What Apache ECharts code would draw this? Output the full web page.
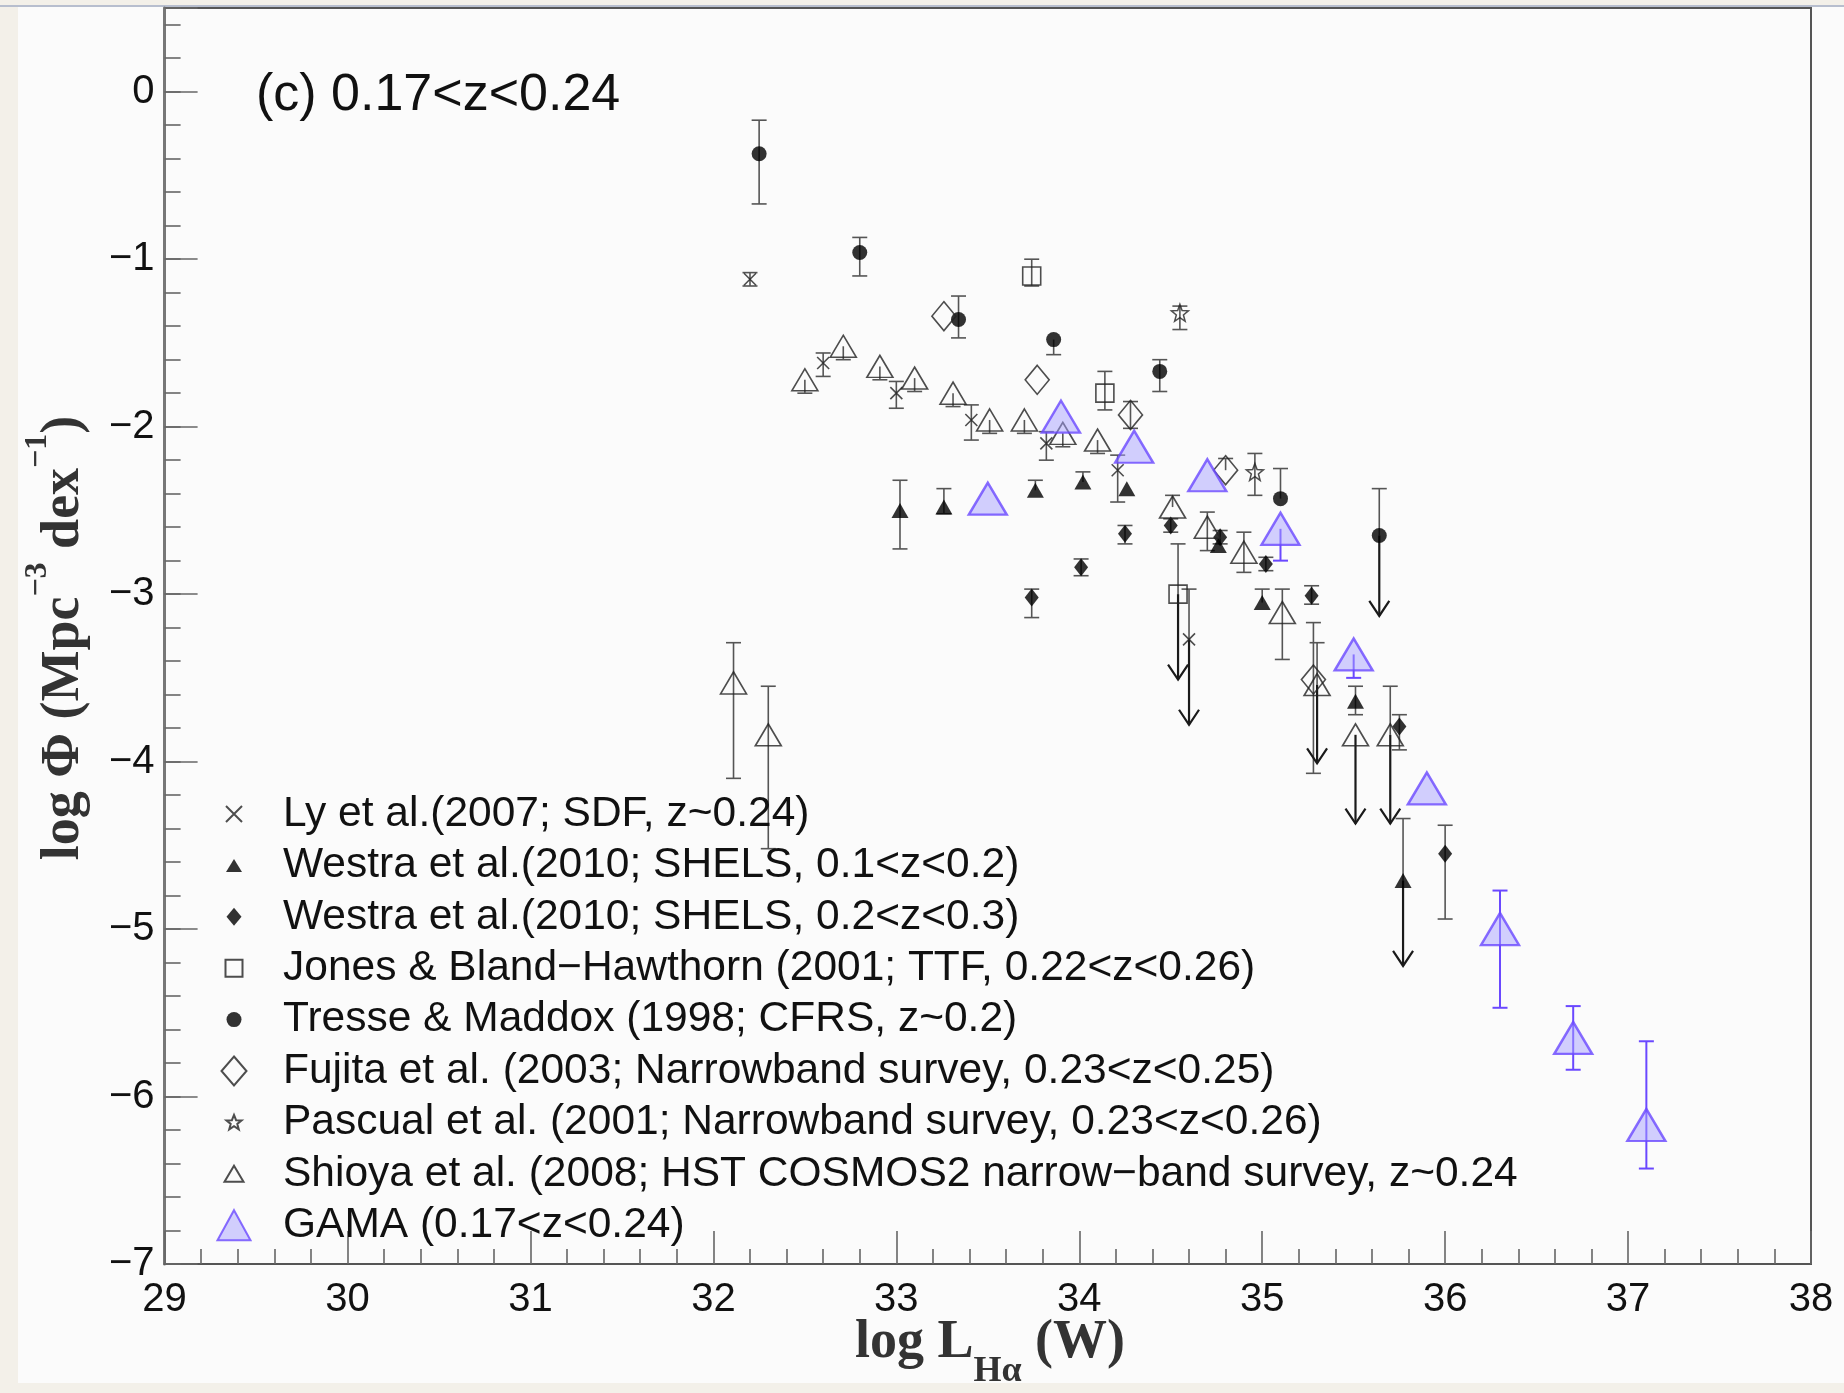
<!DOCTYPE html>
<html>
<head>
<meta charset="utf-8">
<script src="https://cdn.jsdelivr.net/npm/echarts@6/dist/echarts.min.js"></script>
<style>
  html, body { margin: 0; padding: 0; background: #f3f0e9; }
  #chart { width: 1844px; height: 1393px; }
</style>
</head>
<body>
<div id="chart"></div>
<script>
// Hα luminosity function, 0.17 < z < 0.24: literature points and GAMA.
// Each survey: x = log L(Hα) [W], y = log Φ, lo/hi = error-bar ends,
// lim = tip of an upper-limit arrow (null where the point is a detection).

// Ly et al. (2007)
const lyX   = [32.20, 32.60, 33.00, 33.41, 33.82, 34.21, 34.60];
const lyY   = [-1.12, -1.62, -1.80, -1.96, -2.10, -2.26, -3.27];
const lyLo  = [-1.16, -1.70, -1.89, -2.08, -2.20, -2.45, null];
const lyHi  = [-1.08, -1.56, -1.73, -1.87, -2.03, -2.17, -2.97];
const lyLim = [null, null, null, null, null, null, -3.78];

// Westra et al. (2010), 0.1<z<0.2
const w1X   = [33.02, 33.26, 33.76, 34.02, 34.26, 34.76, 35.00, 35.51, 35.77];
const w1Y   = [-2.50, -2.48, -2.38, -2.33, -2.37, -2.71, -3.05, -3.64, -4.71];
const w1Lo  = [-2.73, -2.52, null, null, null, null, null, -3.72, null];
const w1Hi  = [-2.32, -2.37, -2.32, -2.27, null, null, -2.97, -3.55, -4.34];
const w1Lim = [null, null, null, null, null, null, null, null, -5.22];

// Westra et al. (2010), 0.2<z<0.3
const w2X   = [33.74, 34.01, 34.25, 34.50, 34.77, 35.02, 35.27, 35.75, 36.00];
const w2Y   = [-3.02, -2.84, -2.64, -2.59, -2.66, -2.82, -3.01, -3.79, -4.55];
const w2Lo  = [-3.14, -2.89, -2.70, -2.63, -2.70, -2.86, -3.06, -3.93, -4.94];
const w2Hi  = [-2.97, -2.79, -2.59, -2.55, -2.62, -2.78, -2.95, -3.72, -4.38];

// Jones & Bland-Hawthorn (2001)
const jbX   = [33.74, 34.14, 34.54];
const jbY   = [-1.10, -1.80, -3.00];
const jbLo  = [-1.16, -1.90, null];
const jbHi  = [-1.00, -1.67, -2.70];
const jbLim = [null, null, -3.51];

// Tresse & Maddox (1998)
const tmX   = [32.25, 32.80, 33.34, 33.86, 34.44, 35.10, 35.64];
const tmY   = [-0.37, -0.96, -1.36, -1.48, -1.67, -2.43, -2.65];
const tmLo  = [-0.67, -1.10, -1.47, -1.57, -1.79, null, null];
const tmHi  = [-0.17, -0.87, -1.22, null, -1.60, -2.25, -2.37];
const tmLim = [null, null, null, null, null, null, -3.13];

// Fujita et al. (2003)
const fuX   = [33.26, 33.77, 34.28, 34.80, 35.28];
const fuY   = [-1.34, -1.72, -1.93, -2.26, -3.51];
const fuLo  = [null, null, -2.01, null, -4.07];
const fuHi  = [null, null, -1.85, -2.19, -3.17];

// Pascual et al. (2001)
const paX   = [34.55, 34.96];
const paY   = [-1.32, -2.27];
const paLo  = [-1.42, -2.41];
const paHi  = [-1.28, -2.16];

// Shioya et al. (2008)
const shX   = [32.11, 32.30, 32.50, 32.71, 32.91, 33.10, 33.31, 33.51, 33.70, 33.91, 34.10, 34.51, 34.70, 34.90, 35.11, 35.30, 35.51, 35.70];
const shY   = [-3.53, -3.84, -1.72, -1.52, -1.64, -1.71, -1.80, -1.96, -1.96, -2.04, -2.08, -2.48, -2.60, -2.75, -3.11, -3.54, -3.84, -3.84];
const shLo  = [-4.10, -4.52, -1.80, -1.60, -1.72, -1.79, -1.88, -2.04, -2.04, -2.12, -2.16, null, -2.74, -2.87, -3.39, null, null, null];
const shHi  = [-3.29, -3.55, null, null, null, null, null, null, null, null, null, -2.41, -2.51, -2.63, -2.97, -3.29, null, -3.55];
const shLim = [null, null, null, null, null, null, null, null, null, null, null, null, null, null, null, -4.01, -4.37, -4.37];

// GAMA (0.17<z<0.24)
const gmX   = [33.5, 33.9, 34.3, 34.7, 35.1, 35.5, 35.9, 36.3, 36.7, 37.1];
const gmY   = [-2.43, -1.94, -2.12, -2.29, -2.61, -3.36, -4.16, -5.00, -5.65, -6.17];
const gmLo  = [null, null, null, null, -2.80, -3.50, null, -5.47, -5.84, -6.43];
const gmHi  = [null, null, null, null, null, null, null, -4.77, -5.46, -5.67];

// Axis ticks
const xTicks = { min: 29, max: 38, step: 1 };
const yTicks = { min: -7, max: 0.5, step: 1, minorStep: 0.2 };

const SANS = '"Liberation Sans", Arial, Helvetica, sans-serif';
const SERIF = '"Liberation Serif", "Times New Roman", serif';
const HOLLOW = 'rgba(0,0,0,0)';

function points(xs, ys) { return xs.map((x, i) => [x, ys[i]]); }
function barRows(xs, ys, lo, hi, lim) {
  return xs.map((x, i) => [
    x, ys[i],
    lo[i] == null ? ys[i] : lo[i],
    hi[i] == null ? ys[i] : hi[i],
    (lim && lim[i] != null) ? lim[i] : ys[i]
  ]);
}

// Vertical error bars with caps, plus downward arrows for upper limits.
function errorSeries(rows, color, width) {
  return {
    type: 'custom',
    silent: true,
    z: 2,
    data: rows,
    encode: { x: 0, y: [1, 2, 3, 4] },
    renderItem(params, api) {
      const x = api.value(0), y = api.value(1), lo = api.value(2), hi = api.value(3), lim = api.value(4);
      const c = api.coord([x, y]);
      const pl = api.coord([x, lo]);
      const ph = api.coord([x, hi]);
      const cap = 7.5;
      const st = { stroke: color, lineWidth: width };
      const kids = [];
      if (hi !== lo) {
        kids.push({ type: 'line', shape: { x1: c[0], y1: ph[1], x2: c[0], y2: pl[1] }, style: st });
      }
      if (hi !== y) kids.push({ type: 'line', shape: { x1: c[0] - cap, y1: ph[1], x2: c[0] + cap, y2: ph[1] }, style: st });
      if (lo !== y) kids.push({ type: 'line', shape: { x1: c[0] - cap, y1: pl[1], x2: c[0] + cap, y2: pl[1] }, style: st });
      if (lim !== y) {
        const t = api.coord([x, lim]);
        const ast = { stroke: '#1a1a1a', lineWidth: 2.2, fill: null };
        kids.push({ type: 'line', shape: { x1: c[0], y1: c[1], x2: c[0], y2: t[1] }, style: ast });
        kids.push({ type: 'polyline', shape: { points: [[c[0] - 10, t[1] - 15], [c[0], t[1]], [c[0] + 10, t[1] - 15]] }, style: ast });
      }
      return { type: 'group', children: kids };
    }
  };
}

const STAR = 'M50,2L61.8,33.8L95.6,35.2L69,56.2L78.2,88.8L50,70L21.8,88.8L31,56.2L4.4,35.2L38.2,33.8Z';

const names = {
  ly: 'Ly et al.(2007; SDF, z~0.24)',
  w1: 'Westra et al.(2010; SHELS, 0.1<z<0.2)',
  w2: 'Westra et al.(2010; SHELS, 0.2<z<0.3)',
  jb: 'Jones & Bland\u2212Hawthorn (2001; TTF, 0.22<z<0.26)',
  tm: 'Tresse & Maddox (1998; CFRS, z~0.2)',
  fu: 'Fujita et al. (2003; Narrowband survey, 0.23<z<0.25)',
  pa: 'Pascual et al. (2001; Narrowband survey, 0.23<z<0.26)',
  sh: 'Shioya et al. (2008; HST COSMOS2 narrow\u2212band survey, z~0.24',
  gm: 'GAMA (0.17<z<0.24)'
};

// Legend icons drawn in a 34x34 box (the leading moves fix the box size)
const BOX = 'path://M0,0M34,34';
const legendIcons = {
  ly: BOX + 'M9,9L25,25M25,9L9,25',
  w1: BOX + 'M17,10.5L25,23.5L9,23.5Z',
  w2: BOX + 'M17,8L24.5,17L17,26L9.5,17Z',
  jb: BOX + 'M8.5,8.5L25.5,8.5L25.5,25.5L8.5,25.5Z',
  tm: BOX + 'M9.5,17A7.5,7.5,0,1,0,24.5,17A7.5,7.5,0,1,0,9.5,17Z',
  fu: BOX + 'M17,2.5L29.5,17L17,31.5L4.5,17Z',
  pa: BOX + 'M17,9.5L19.1,14.8L24.6,15L20.3,18.5L21.8,24L17,20.8L12.2,24L13.7,18.5L9.4,15L14.9,14.8Z',
  sh: BOX + 'M17,9L26.5,25L7.5,25Z',
  gm: BOX + 'M17,2L33.5,32L0.5,32Z'
};

const markerSeries = [
  { key: 'ly', data: points(lyX, lyY), symbol: 'path://M0,0L100,100M100,0L0,100', symbolSize: 12,
    itemStyle: { color: HOLLOW, borderColor: '#222', borderWidth: 1.6 } },
  { key: 'w1', data: points(w1X, w1Y), symbol: 'triangle', symbolSize: [17, 15],
    itemStyle: { color: '#000' } },
  { key: 'w2', data: points(w2X, w2Y), symbol: 'diamond', symbolSize: [14, 18],
    itemStyle: { color: '#000' } },
  { key: 'jb', data: points(jbX, jbY), symbol: 'rect', symbolSize: 18,
    itemStyle: { color: HOLLOW, borderColor: '#222', borderWidth: 1.6 } },
  { key: 'tm', data: points(tmX, tmY), symbol: 'circle', symbolSize: 15,
    itemStyle: { color: '#000' } },
  { key: 'fu', data: points(fuX, fuY), symbol: 'diamond', symbolSize: [24, 29],
    itemStyle: { color: HOLLOW, borderColor: '#222', borderWidth: 1.6 } },
  { key: 'pa', data: points(paX, paY), symbol: 'path://' + STAR, symbolSize: 17,
    itemStyle: { color: HOLLOW, borderColor: '#222', borderWidth: 1.5 } },
  { key: 'sh', data: points(shX, shY), symbol: 'triangle', symbolSize: [26, 22],
    itemStyle: { color: HOLLOW, borderColor: '#222', borderWidth: 1.6 } },
  { key: 'gm', data: points(gmX, gmY), symbol: 'triangle', symbolSize: [38, 32],
    itemStyle: { color: 'rgba(165,160,255,0.62)', borderColor: '#6a48ff', borderWidth: 2.4 }, z: 5 }
].map(s => ({
  type: 'scatter', name: names[s.key], data: s.data, symbol: s.symbol, symbolSize: s.symbolSize,
  itemStyle: s.itemStyle, z: s.z || 4, silent: true, animation: false
}));

const errorBars = [
  errorSeries(barRows(lyX, lyY, lyLo, lyHi, lyLim), '#555', 1.6),
  errorSeries(barRows(w1X, w1Y, w1Lo, w1Hi, w1Lim), '#555', 1.6),
  errorSeries(barRows(w2X, w2Y, w2Lo, w2Hi, null), '#555', 1.6),
  errorSeries(barRows(jbX, jbY, jbLo, jbHi, jbLim), '#555', 1.6),
  errorSeries(barRows(tmX, tmY, tmLo, tmHi, tmLim), '#555', 1.6),
  errorSeries(barRows(fuX, fuY, fuLo, fuHi, null), '#555', 1.6),
  errorSeries(barRows(paX, paY, paLo, paHi, null), '#555', 1.6),
  errorSeries(barRows(shX, shY, shLo, shHi, shLim), '#555', 1.6),
  errorSeries(barRows(gmX, gmY, gmLo, gmHi, null), '#6a48ff', 2)
];

const tickLine = { color: '#666', width: 1.6 };
const labelStyle = { fontFamily: SANS, fontSize: 40, color: '#111' };
const minus = v => (v < 0 ? '\u2212' + Math.abs(v) : String(v));

const option = {
  backgroundColor: '#f3f0e9',
  animation: false,
  grid: { left: 164.6, right: 33, top: 8, bottom: 129, show: true, borderColor: '#555', borderWidth: 2 },
  xAxis: {
    type: 'value', min: xTicks.min, max: xTicks.max, interval: xTicks.step,
    axisLine: { show: true, onZero: false, lineStyle: { color: '#555', width: 2 } },
    axisTick: { show: true, inside: true, length: 33, lineStyle: tickLine },
    minorTick: { show: true, splitNumber: 5, length: 15, lineStyle: tickLine },
    splitLine: { show: false },
    axisLabel: Object.assign({ margin: 16, formatter: v => String(v) }, labelStyle)
  },
  yAxis: [
    {
      type: 'value', min: yTicks.min, max: yTicks.max, interval: yTicks.step,
      axisLine: { show: true, onZero: false, lineStyle: { color: '#777', width: 3 } },
      axisTick: { show: true, inside: true, length: 33, lineStyle: tickLine },
      splitLine: { show: false },
      axisLabel: Object.assign({ margin: 10, formatter: v => (Number.isInteger(v) ? minus(v) : '') }, labelStyle)
    },
    {
      type: 'value', min: yTicks.min, max: yTicks.max, interval: yTicks.minorStep, position: 'left',
      axisLine: { show: false },
      axisTick: { show: true, inside: true, length: 16, lineStyle: tickLine },
      axisLabel: { show: false },
      splitLine: { show: false }
    }
  ],
  legend: {
    orient: 'vertical', left: 216, top: 792, padding: 0,
    itemWidth: 34, itemHeight: 34, itemGap: 7.4, selectedMode: false,
    textStyle: { fontFamily: SANS, fontSize: 42.5, color: '#111', lineHeight: 44, padding: [0, 0, 0, 27] },
    data: Object.keys(names).map(k => ({ name: names[k], icon: legendIcons[k] }))
  },
  graphic: [
    { type: 'rect', z: -10, silent: true, shape: { x: 18, y: 7, width: 1826, height: 1376 }, style: { fill: '#fbfbfb' } },
    { type: 'line', z: -9, silent: true, shape: { x1: 0, y1: 6, x2: 1844, y2: 6 }, style: { stroke: '#a3aec4', lineWidth: 1.5 } },
    {
      type: 'text', x: 256, y: 96, silent: true,
      style: { text: '(c) 0.17<z<0.24', fontFamily: SANS, fontSize: 52, fill: '#111', align: 'left', verticalAlign: 'middle' }
    },
    {
      type: 'text', x: 990, y: 1343, silent: true,
      style: {
        text: '{m|log L}{s|H\u03b1}{m| (W)}', align: 'center', verticalAlign: 'middle',
        rich: {
          m: { fontFamily: SERIF, fontWeight: 'bold', fontSize: 54, lineHeight: 94, fill: '#333' },
          s: { fontFamily: SERIF, fontWeight: 'bold', fontSize: 36, lineHeight: 36, verticalAlign: 'bottom', fill: '#333' }
        }
      }
    },
    {
      type: 'text', x: 64, y: 638, rotation: Math.PI / 2, silent: true,
      style: {
        text: '{m|log \u03a6 (Mpc}{p|\u22123}{m| dex}{p|\u22121}{m|)}', align: 'center', verticalAlign: 'middle',
        rich: {
          m: { fontFamily: SERIF, fontWeight: 'bold', fontSize: 54, lineHeight: 84, fill: '#333' },
          p: { fontFamily: SERIF, fontWeight: 'bold', fontSize: 32, lineHeight: 32, verticalAlign: 'top', fill: '#333' }
        }
      }
    }
  ],
  series: errorBars.concat(markerSeries)
};

const chart = echarts.init(document.getElementById('chart'), null, { renderer: 'canvas' });
chart.setOption(option);
</script>
</body>
</html>
